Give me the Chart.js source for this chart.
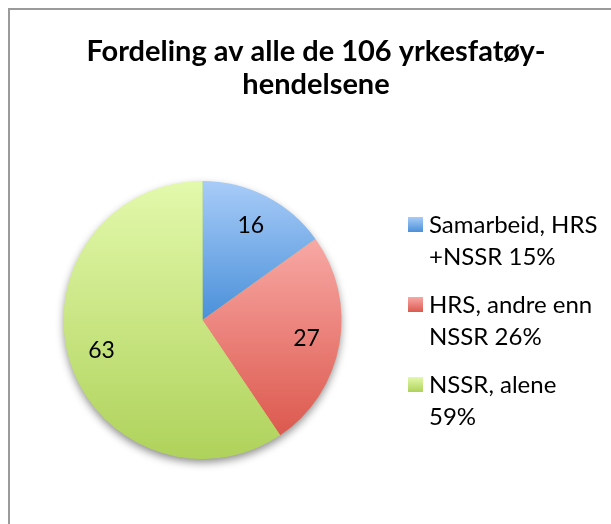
<!DOCTYPE html>
<html>
<head>
<meta charset="utf-8">
<script src="https://cdn.jsdelivr.net/npm/chart.js@4.4.0/dist/chart.umd.min.js"></script>
<style>
  html, body { margin: 0; padding: 0; background: #fff; }
  #wrap { position: relative; width: 611px; height: 524px; }
</style>
</head>
<body>
<div id="wrap"><canvas id="pie" width="611" height="524"></canvas></div>
<script>
const titleLines = ['Fordeling av alle de 106 yrkesfatøy-', 'hendelsene'];
const categories = ['Samarbeid, HRS +NSSR', 'HRS, andre enn NSSR', 'NSSR, alene'];
const legendLines = [['Samarbeid, HRS', '+NSSR 15%'], ['HRS, andre enn', 'NSSR 26%'], ['NSSR, alene', '59%']];
const counts = [16, 27, 63];
const topColors = ['#a8ccf8', '#f8a8a4', '#e3f9ac'];
const bottomColors = ['#4a90d9', '#dc594e', '#afd25b'];

const FONT = 'Lato, "Open Sans", sans-serif';

// vertical gradient spanning the slice's own height
function sliceGradient(context) {
  const chart = context.chart;
  const area = chart.chartArea;
  const i = context.dataIndex;
  if (!area) return bottomColors[i];
  const cx = (area.left + area.right) / 2, cy = (area.top + area.bottom) / 2;
  const r = Math.min(area.right - area.left, area.bottom - area.top) / 2;
  const total = counts.reduce((a, b) => a + b, 0);
  let before = 0;
  for (let k = 0; k < i; k++) before += counts[k];
  const a0 = -Math.PI / 2 + before / total * 2 * Math.PI;
  const a1 = a0 + counts[i] / total * 2 * Math.PI;
  const ys = [cy, cy + r * Math.sin(a0), cy + r * Math.sin(a1)];
  [-Math.PI / 2, Math.PI / 2, 3 * Math.PI / 2].forEach(a => {
    if (a >= a0 && a <= a1) ys.push(cy + r * Math.sin(a));
  });
  const g = chart.ctx.createLinearGradient(0, Math.min(...ys), 0, Math.max(...ys));
  g.addColorStop(0, topColors[i]);
  g.addColorStop(1, bottomColors[i]);
  return g;
}

const decorations = {
  id: 'decorations',
  beforeDatasetsDraw(chart) {
    const arc = chart.getDatasetMeta(0).data[0];
    if (!arc) return;
    const ctx = chart.ctx;
    ctx.save();
    ctx.shadowColor = 'rgba(0,0,0,0.45)';
    ctx.shadowBlur = 8;
    ctx.shadowOffsetY = 4;
    ctx.fillStyle = '#b5d566';
    ctx.beginPath();
    ctx.arc(arc.x, arc.y, arc.outerRadius - 0.5, 0, Math.PI * 2);
    ctx.fill();
    ctx.restore();
  },
  afterDatasetsDraw(chart) {
    const ctx = chart.ctx;
    ctx.save();
    ctx.fillStyle = '#000';
    ctx.font = '23px ' + FONT;
    ctx.textAlign = 'center';
    ctx.textBaseline = 'middle';
    chart.getDatasetMeta(0).data.forEach((arc, i) => {
      const mid = (arc.startAngle + arc.endAngle) / 2;
      const rr = arc.outerRadius * 0.76;
      ctx.fillText(String(counts[i]), arc.x + Math.cos(mid) * rr, arc.y + Math.sin(mid) * rr);
    });
    ctx.restore();
  },
  afterDraw(chart) {
    const ctx = chart.ctx;
    ctx.save();
    // frame
    ctx.strokeStyle = '#9a9a9a';
    ctx.lineWidth = 2;
    ctx.beginPath();
    ctx.moveTo(9, 524);
    ctx.lineTo(9, 9);
    ctx.lineTo(611, 9);
    ctx.stroke();
    // title
    ctx.fillStyle = '#000';
    ctx.font = 'bold 29px ' + FONT;
    ctx.textAlign = 'center';
    ctx.textBaseline = 'alphabetic';
    ctx.fillText(titleLines[0], 316, 61);
    ctx.fillText(titleLines[1], 316, 94);
    // legend
    ctx.textAlign = 'left';
    ctx.font = '24px ' + FONT;
    legendLines.forEach((lines, i) => {
      const top = 217 + i * 80;
      const g = ctx.createLinearGradient(0, top, 0, top + 15);
      g.addColorStop(0, topColors[i]);
      g.addColorStop(1, bottomColors[i]);
      ctx.fillStyle = g;
      ctx.fillRect(408, top, 15, 15);
      ctx.fillStyle = '#000';
      lines.forEach((t, j) => ctx.fillText(t, 429, top + 16 + j * 32));
    });
    ctx.restore();
  }
};

new Chart(document.getElementById('pie'), {
  type: 'pie',
  data: {
    labels: categories,
    datasets: [{
      data: counts,
      backgroundColor: sliceGradient,
      borderWidth: 0
    }]
  },
  options: {
    responsive: false,
    animation: false,
    layout: { padding: { left: 63, top: 181, right: 269, bottom: 65 } },
    plugins: {
      legend: { display: false },
      title: { display: false },
      tooltip: { enabled: false }
    }
  },
  plugins: [decorations]
});
</script>
</body>
</html>
